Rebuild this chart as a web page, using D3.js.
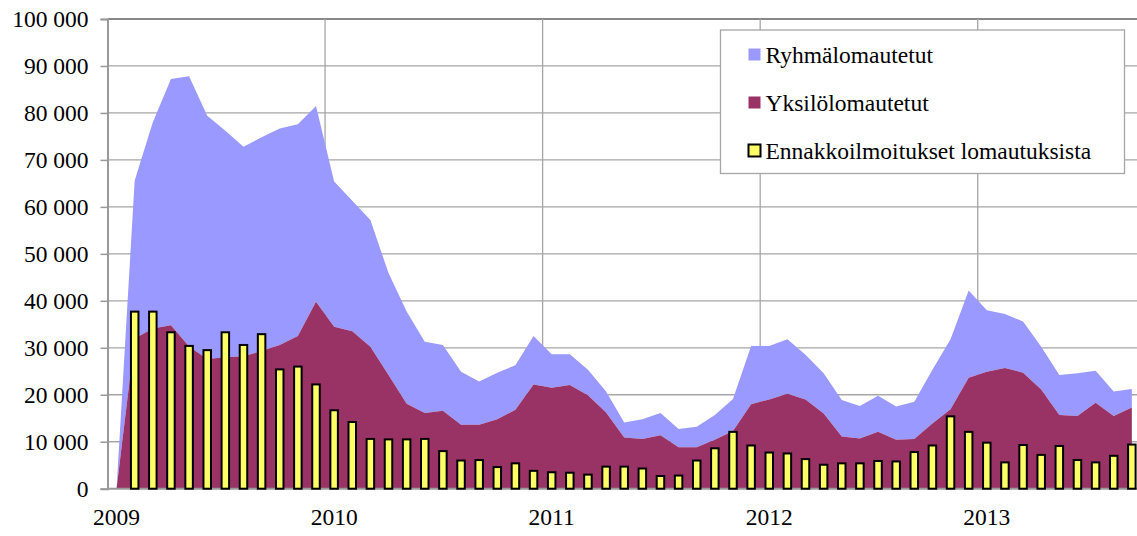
<!DOCTYPE html>
<html><head><meta charset="utf-8">
<script src="https://cdn.jsdelivr.net/npm/d3@7"></script>
<style>
html,body{margin:0;padding:0;background:#fff;}
svg{display:block;}
text{font-family:"Liberation Serif","Times New Roman",serif;fill:#000;}
</style></head>
<body><svg id="c" width="1137" height="536"></svg>
<script>
// Months Jan 2009 – Sep 2013
const months = [];
for (let yr = 2009; yr <= 2013; yr++) for (let m = 1; m <= 12; m++) { if (yr === 2013 && m > 9) break; months.push(yr + "-" + String(m).padStart(2, "0")); }
const yearLabels = ["2009", "2010", "2011", "2012", "2013"];
const yTicks = [0,10000,20000,30000,40000,50000,60000,70000,80000,90000,100000];
const seriesNames = ["Ryhmälomautetut", "Yksilölomautetut", "Ennakkoilmoitukset lomautuksista"];

const yksilo = [0,32000,34100,34800,30300,27600,28000,28200,29300,30600,32500,39800,
  34500,33500,30200,24200,18100,16100,16600,13600,13600,14800,16800,22200,
  21500,22100,19900,16200,10900,10600,11400,8800,8800,10400,12300,18000,
  19000,20200,19000,16000,11100,10700,12100,10400,10600,13900,16900,23600,
  24900,25700,24700,21100,15700,15500,18300,15500,17300];
const ryhma = [0,33600,43900,52400,57500,51800,48200,44600,45500,46100,45100,41700,
  30900,27800,27000,21700,19600,15200,14000,11300,9200,9900,9500,10300,
  7100,6500,5400,4500,3200,4200,4700,3900,4400,5300,6800,12400,
  11400,11600,9500,8600,7800,6900,7700,7100,7900,11400,14900,18600,
  13100,11500,10900,9100,8500,9100,6800,5200,3900];
const ennakko = [null,37700,37700,33300,30400,29500,33300,30600,32900,25400,26000,22200,
  16700,14200,10600,10500,10500,10600,8000,6000,6100,4600,5400,3800,
  3500,3400,3000,4700,4700,4300,2700,2800,6000,8600,12100,9200,
  7700,7500,6300,5100,5400,5400,5900,5800,7800,9200,15400,12100,
  9800,5600,9300,7200,9100,6100,5600,7000,9400];

const colors = {ryhma:"#9999FF", yksilo:"#993366", ennakko:"#FFFF66"};
const svg = d3.select("#c");
const pL = 107.5, pT = 19, pB = 488.7, step = 18.13;
const fs = 23.5;
const x = d3.scaleBand().domain(months).range([pL, pL + step * months.length]).padding(0);
const y = d3.scaleLinear().domain([0, 100000]).range([pB, pT]);

const data = months.map((m, i) => ({m, yksilo: yksilo[i], ryhma: ryhma[i], ennakko: ennakko[i]}));
const stack = d3.stack().keys(["yksilo", "ryhma"])(data);
const cx = d => x(d.data.m) + x.bandwidth() / 2;

// gridlines
const g = svg.append("g");
g.selectAll("line.h").data(yTicks.slice(1)).join("line")
  .attr("x1", pL).attr("x2", 1137).attr("y1", d => y(d)).attr("y2", d => y(d))
  .attr("stroke", d => d === 100000 ? "#888" : "#a6a6a6").attr("stroke-width", d => d === 100000 ? 2 : 1.3);
const yearStarts = months.filter(m => m.endsWith("-01") && m !== "2009-01");
g.selectAll("line.v").data(yearStarts).join("line")
  .attr("x1", d => x(d)).attr("x2", d => x(d)).attr("y1", pT).attr("y2", pB)
  .attr("stroke", "#a6a6a6").attr("stroke-width", 1.3);

// areas
const area = d3.area().x(cx).y0(d => y(d[0])).y1(d => y(d[1]));
svg.append("path").datum(stack[1]).attr("d", area).attr("fill", colors.ryhma);
svg.append("path").datum(stack[0]).attr("d", area).attr("fill", colors.yksilo);

// axes
const yAxis = d3.axisLeft(y).tickValues(yTicks).tickSize(7).tickPadding(12)
  .tickFormat(d => d3.format(",")(d).replace(/,/g, "\u00a0"));
const ya = svg.append("g").attr("transform", `translate(${pL},0)`).call(yAxis);
ya.select(".domain").attr("stroke", "#999").attr("stroke-width", 2);
ya.selectAll(".tick line").attr("stroke", "#999").attr("stroke-width", 1.5);
ya.selectAll("text").attr("font-size", fs).attr("font-family", "Liberation Serif").attr("fill", "#000");

svg.append("line").attr("x1", pL).attr("x2", 1137).attr("y1", pB).attr("y2", pB)
  .attr("stroke", "#999").attr("stroke-width", 2);

// bars
const bw = 7.5;
svg.append("g").selectAll("rect").data(data.filter(d => d.ennakko != null)).join("rect")
  .attr("x", d => x(d.m) + x.bandwidth() / 2 - bw / 2)
  .attr("y", d => y(d.ennakko))
  .attr("width", bw).attr("height", d => pB - y(d.ennakko))
  .attr("fill", colors.ennakko).attr("stroke", "#000").attr("stroke-width", 2);

// x labels
const yearMonths = yearLabels.map(yr => yr + "-01");
svg.append("g").selectAll("text").data(yearLabels).join("text")
  .attr("x", (d, i) => x(yearMonths[i]) + x.bandwidth() / 2)
  .attr("y", 525).attr("text-anchor", "middle").attr("font-size", fs).text(d => d);

// legend
const lg = svg.append("g");
lg.append("rect").attr("x", 720.5).attr("y", 30).attr("width", 404).attr("height", 143.5)
  .attr("fill", "#fff").attr("stroke", "#a6a6a6").attr("stroke-width", 1.3);
const lc = [colors.ryhma, colors.yksilo, colors.ennakko];
seriesNames.forEach((n, i) => {
  const cy = 55 + i * 48;
  const r = lg.append("rect").attr("x", 748.5).attr("y", cy - 6.5).attr("width", 12).attr("height", 12).attr("fill", lc[i]);
  if (i === 2) r.attr("stroke", "#000").attr("stroke-width", 2);
  lg.append("text").attr("x", 765.5).attr("y", cy + 8).attr("font-size", fs).text(n);
});
</script></body></html>
